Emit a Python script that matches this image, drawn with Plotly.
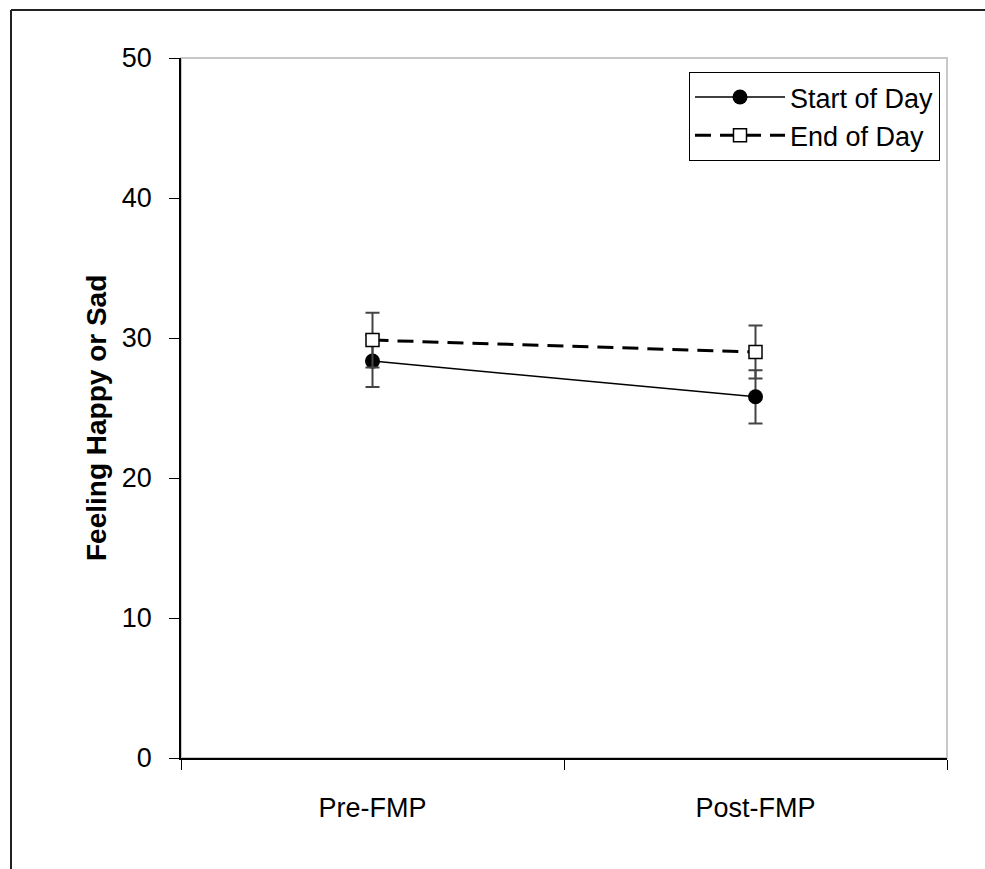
import plotly.graph_objects as go

categories = ["Pre-FMP", "Post-FMP"]
start_of_day = [28.35, 25.8]
start_err = [1.85, 1.9]
end_of_day = [29.85, 29.0]
end_err = [1.95, 1.9]
y_ticks = [0, 10, 20, 30, 40, 50]

W, H = 985, 869
L, R, T, B = 181, 38, 58, 111
pw, ph = W - L - R, H - T - B

def px_x(p):
    return (p - L) / pw

def px_y(p):
    return 1 - (p - T) / ph

FONT = "Liberation Sans, Arial, sans-serif"

fig = go.Figure()
fig.add_trace(go.Scatter(
    x=categories, y=start_of_day, name="Start of Day", mode="lines+markers",
    line=dict(color="black", width=1.5),
    marker=dict(symbol="circle", size=15, color="black"),
    error_y=dict(type="data", array=start_err, visible=True, color="#444", thickness=2, width=7),
))
fig.add_trace(go.Scatter(
    x=categories, y=end_of_day, name="End of Day", mode="lines+markers",
    line=dict(color="black", width=3, dash="16px,9px"),
    marker=dict(symbol="square", size=13, color="white", line=dict(color="black", width=1.5)),
    error_y=dict(type="data", array=end_err, visible=True, color="#444", thickness=2, width=7),
))

shapes = [
    dict(type="rect", xref="paper", yref="paper", x0=0, x1=1, y0=0, y1=1,
         line=dict(color="#c8c8c8", width=2), layer="below"),
    dict(type="line", xref="paper", yref="paper", x0=px_x(11), x1=px_x(11), y0=px_y(10), y1=px_y(900),
         line=dict(color="#222", width=2)),
    dict(type="line", xref="paper", yref="paper", x0=px_x(11), x1=px_x(1000), y0=px_y(10), y1=px_y(10),
         line=dict(color="#222", width=2)),
]

fig.update_layout(
    width=W, height=H,
    margin=dict(l=L, r=R, t=T, b=B, autoexpand=False),
    paper_bgcolor="white", plot_bgcolor="white",
    font=dict(family=FONT, color="black", size=27),
    showlegend=True,
    legend=dict(x=px_x(940), y=px_y(72), xanchor="right", yanchor="top",
                bordercolor="black", borderwidth=1, bgcolor="white",
                font=dict(size=27, family=FONT), tracegroupgap=0, itemwidth=90),
    xaxis=dict(type="category", range=[-0.5, 1.5], tickson="boundaries",
               ticks="outside", ticklen=10, tickwidth=1, tickcolor="black",
               showline=True, linecolor="black", linewidth=1.5, showgrid=False,
               zeroline=False, ticklabelstandoff=25, tickfont=dict(size=27)),
    yaxis=dict(range=[0, 50], tickvals=y_ticks, ticks="outside", ticklen=10, tickwidth=1,
               tickcolor="black", showline=True, linecolor="black", linewidth=1.5,
               showgrid=False, zeroline=False, ticklabelstandoff=12, tickfont=dict(size=27)),
    shapes=shapes,
    annotations=[dict(text="<b>Feeling Happy or Sad</b>", textangle=-90, xref="paper", yref="paper",
                      x=px_x(97), y=px_y(418), xanchor="center", yanchor="middle",
                      showarrow=False, font=dict(size=28, family=FONT))],
)

fig.write_html("out.html")
